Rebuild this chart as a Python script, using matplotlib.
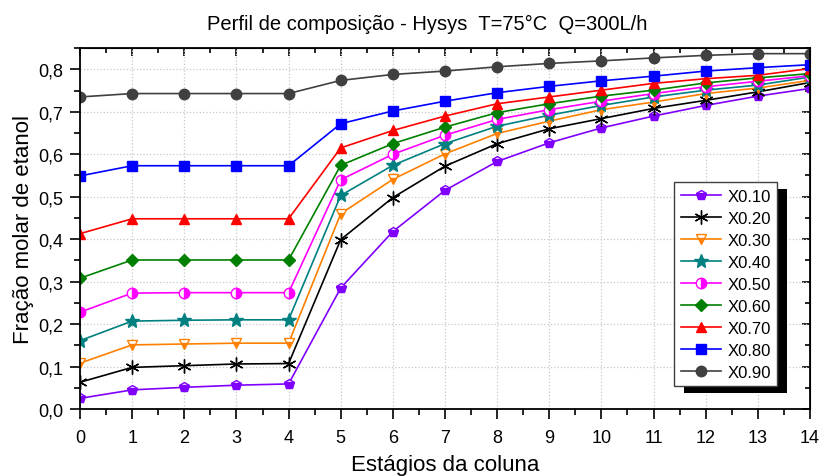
import numpy as np
import matplotlib
matplotlib.use("Agg")
import matplotlib.pyplot as plt
from matplotlib.patches import Rectangle
from matplotlib.ticker import MultipleLocator, FuncFormatter

plt.rcParams['font.family'] = ['Liberation Sans', 'DejaVu Sans']

# estágios da coluna
stages = np.arange(15)

# fração molar de etanol por alimentação
x010 = [0.025, 0.045, 0.051, 0.056, 0.059, 0.285, 0.418, 0.515, 0.583, 0.627, 0.662, 0.690, 0.715, 0.737, 0.755]
x020 = [0.063, 0.098, 0.102, 0.106, 0.107, 0.399, 0.498, 0.572, 0.625, 0.660, 0.684, 0.708, 0.727, 0.747, 0.769]
x030 = [0.108, 0.151, 0.153, 0.155, 0.155, 0.460, 0.541, 0.601, 0.649, 0.678, 0.705, 0.723, 0.743, 0.756, 0.774]
x040 = [0.161, 0.207, 0.209, 0.210, 0.210, 0.503, 0.574, 0.625, 0.666, 0.692, 0.715, 0.735, 0.751, 0.763, 0.782]
x050 = [0.228, 0.273, 0.274, 0.274, 0.274, 0.540, 0.600, 0.645, 0.682, 0.705, 0.725, 0.743, 0.759, 0.772, 0.785]
x060 = [0.308, 0.351, 0.351, 0.351, 0.351, 0.574, 0.625, 0.664, 0.698, 0.719, 0.737, 0.751, 0.768, 0.780, 0.790]
x070 = [0.413, 0.448, 0.448, 0.448, 0.448, 0.615, 0.656, 0.690, 0.719, 0.735, 0.751, 0.767, 0.778, 0.786, 0.802]
x080 = [0.549, 0.573, 0.573, 0.573, 0.573, 0.672, 0.702, 0.725, 0.745, 0.760, 0.773, 0.784, 0.796, 0.804, 0.811]
x090 = [0.735, 0.743, 0.743, 0.743, 0.743, 0.774, 0.788, 0.796, 0.806, 0.814, 0.820, 0.827, 0.833, 0.837, 0.837]

labels = ["X0.10", "X0.20", "X0.30", "X0.40", "X0.50", "X0.60", "X0.70", "X0.80", "X0.90"]
series = [x010, x020, x030, x040, x050, x060, x070, x080, x090]

styles = [
    dict(color="#8000FF", marker="p", fillstyle="bottom", markerfacecoloralt="white"),
    dict(color="black", marker=(6, 2, 0), markersize=10, markeredgewidth=1.0),
    dict(color="#FF8000", marker="v", fillstyle="bottom", markerfacecoloralt="white"),
    dict(color="#008080", marker="*", markersize=10),
    dict(color="#FF00FF", marker="o", fillstyle="right", markerfacecoloralt="white"),
    dict(color="#008000", marker="D", markersize=6),
    dict(color="#FF0000", marker="^"),
    dict(color="#0000FF", marker="s", markersize=6.5),
    dict(color="#404040", marker="o"),
]

fig = plt.figure(figsize=(8.24, 4.77), dpi=100)
ax = fig.add_axes([0.0971, 0.1405, 0.8859, 0.7565])

for y, lab, st in zip(series, labels, styles):
    kw = dict(linewidth=1.2, markersize=7.5)
    kw.update(st)
    ax.plot(stages, y, label=lab, **kw)

ax.set_xlim(0, 14)
ax.set_ylim(0, 0.85)
ax.xaxis.set_major_locator(MultipleLocator(1))
ax.xaxis.set_minor_locator(MultipleLocator(0.5))
ax.yaxis.set_major_locator(MultipleLocator(0.1))
ax.yaxis.set_minor_locator(MultipleLocator(0.05))
ax.yaxis.set_major_formatter(FuncFormatter(lambda v, p: f"{v:.1f}".replace(".", ",")))
ax.grid(True, which="major", color="#c8c8c8", linestyle=":", linewidth=0.9)

ax.tick_params(which="both", direction="out", labelsize=13, width=1.2, colors="black")
ax.tick_params(which="major", length=7)
ax.tick_params(which="minor", length=4)
ax.tick_params(axis="x", which="major", pad=7.5)
ax.tick_params(axis="y", which="major", pad=5)
for sp in ax.spines.values():
    sp.set_linewidth(1.3)

# eixos espelhados com ticks para dentro
top = ax.secondary_xaxis("top")
top.xaxis.set_major_locator(MultipleLocator(1))
top.xaxis.set_minor_locator(MultipleLocator(0.5))
top.tick_params(which="both", direction="in", labeltop=False, width=1.2)
top.tick_params(which="major", length=6)
top.tick_params(which="minor", length=3.5)
right = ax.secondary_yaxis("right")
right.yaxis.set_major_locator(MultipleLocator(0.1))
right.yaxis.set_minor_locator(MultipleLocator(0.05))
right.tick_params(which="both", direction="in", labelright=False, width=1.2)
right.tick_params(which="major", length=6)
right.tick_params(which="minor", length=3.5)

ax.set_title("Perfil de composição - Hysys  T=75°C  Q=300L/h", fontsize=14.5, pad=14, x=0.475)
ax.set_xlabel("Estágios da coluna", fontsize=16, labelpad=6)
ax.set_ylabel("Fração molar de etanol", fontsize=16, labelpad=3)

leg = ax.legend(loc="upper left", bbox_to_anchor=(0.8137, 0.629), borderaxespad=0,
                fontsize=12, handlelength=2.4, fancybox=False, framealpha=1,
                edgecolor="#404040", borderpad=0.4, labelspacing=0.42,
                handletextpad=0.4)
leg.get_frame().set_linewidth(1.0)

# sombra da legenda
fig.canvas.draw()
bb = leg.get_window_extent()
shadow = Rectangle((bb.x0 + 10, bb.y0 - 7), bb.width, bb.height, transform=None,
                   facecolor="black", edgecolor="none", zorder=4.5)
ax.add_artist(shadow)

fig.savefig("out.png", dpi=100)
